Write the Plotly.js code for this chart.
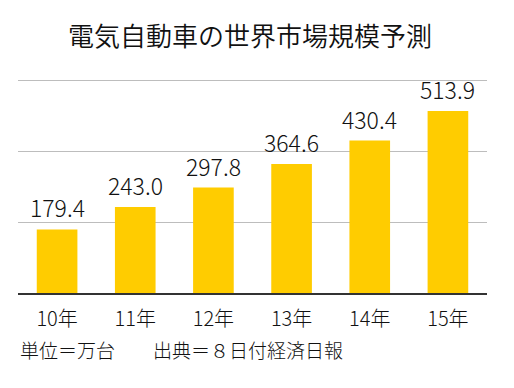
<!DOCTYPE html>
<html>
<head>
<meta charset="utf-8">
<script src="https://cdn.plot.ly/plotly-3.0.1.min.js"></script>
<style>html,body{margin:0;padding:0;background:#fff;}#chart{width:514px;height:388px;}</style>
</head>
<body>
<div id="chart"></div>
<script>
const categories = ['10年', '11年', '12年', '13年', '14年', '15年'];
const values = [179.4, 243.0, 297.8, 364.6, 430.4, 513.9];
const titleText = '電気自動車の世界市場規模予測';
const footerText = '単位＝万台　　出典＝８日付経済日報';

const FONT = '"Noto Sans CJK JP", "Noto Sans", sans-serif';

const trace = {
  type: 'bar',
  x: categories,
  y: values,
  marker: {color: '#FFCC00'},
  hoverinfo: 'none'
};

const valueAnns = categories.map((c, i) => ({
  x: c, y: values[i], xref: 'x', yref: 'y',
  text: values[i].toFixed(1),
  showarrow: false, yanchor: 'bottom', xanchor: 'center', yshift: 3,
  font: {family: FONT, size: 23, color: '#111', weight: 300}
}));

const layout = {
  width: 514, height: 388,
  margin: {l: 17.5, r: 26.5, t: 76.5, b: 95},
  paper_bgcolor: '#fff', plot_bgcolor: '#fff',
  bargap: 0.48,
  showlegend: false,
  title: {
    text: titleText, xref: 'container', yref: 'container',
    x: 250/514, y: 1 - 37/388, xanchor: 'center', yanchor: 'middle',
    font: {family: FONT, size: 26, color: '#111', weight: 350}
  },
  xaxis: {
    type: 'category',
    showline: true, linecolor: '#333', linewidth: 2,
    ticks: '', ticklabelstandoff: 7,
    tickfont: {family: FONT, size: 20, color: '#111', weight: 300},
    showgrid: false, zeroline: false, fixedrange: true
  },
  yaxis: {
    range: [0, 610], dtick: 200, tick0: 0,
    showticklabels: false, ticks: '',
    showgrid: true, gridcolor: '#bdbdbd', gridwidth: 1,
    zeroline: false, showline: false, fixedrange: true
  },
  annotations: valueAnns.concat([{
    xref: 'paper', yref: 'paper', x: 0, y: (293 - 350) / 216.6,
    xanchor: 'left', yanchor: 'middle', showarrow: false,
    text: footerText,
    font: {family: FONT, size: 19, color: '#111', weight: 300}
  }])
};

Plotly.newPlot('chart', [trace], layout, {displayModeBar: false, staticPlot: true});
</script>
</body>
</html>
